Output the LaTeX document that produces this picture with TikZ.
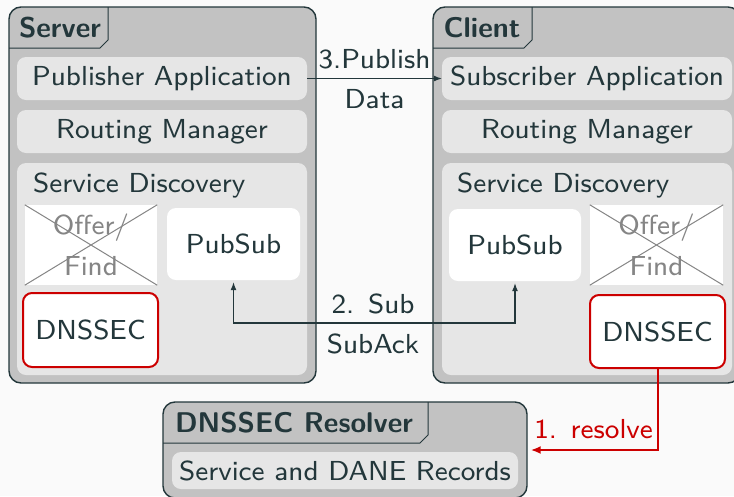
\documentclass[tikz,border=0pt]{standalone}
\usepackage{fontspec}
\setsansfont{lmsans8-regular.otf}[BoldFont=lmsans10-bold.otf]
\usetikzlibrary{arrows.meta}
\definecolor{ink}{HTML}{23373B}
\definecolor{outerfill}{HTML}{C2C2C2}
\definecolor{innerfill}{HTML}{E6E6E6}
\definecolor{bg}{HTML}{FAFAFA}
\definecolor{alert}{HTML}{CC0000}
\definecolor{strike}{HTML}{858585}
\begin{document}
\begin{tikzpicture}[x=1pt,y=-1pt,
  font=\sffamily\fontsize{27.5}{34}\selectfont, text=ink,
  >={Latex[length=8pt,width=6pt]},
  container/.style={draw=ink, line width=1.4pt, fill=outerfill, rounded corners=12pt, inner sep=0pt},
  tabline/.style={draw=ink, line width=1pt},
  title/.style={font=\sffamily\bfseries\fontsize{28.5}{34}\selectfont, inner sep=0pt},
  layer/.style={fill=innerfill, rounded corners=9pt, inner sep=0pt},
  module/.style={fill=white, rounded corners=9pt, inner sep=0pt},
  secure/.style={module, draw=alert, line width=2pt},
  disabled/.style={fill=white, inner sep=0pt, text=strike, align=center,
    font=\sffamily\fontsize{27.5}{41}\selectfont},
  cross/.style={draw=strike, line width=1pt},
  flow/.style={draw=ink, line width=1.1pt},
  resolveflow/.style={draw=alert, line width=2pt, >={Latex[length=10pt,width=8pt]}},
  lbl/.style={inner sep=0pt, anchor=base}]

% canvas
\clip (0,0) rectangle (734,496);
\fill[bg] (0,0) rectangle (734,496);

% ---------- Server ----------
\node[container, minimum width=307pt, minimum height=376pt] (server) at (162.5,195) {};
\draw[tabline] (9,48) -- (100,48) -- (108,40) -- (108,7);
\node[title] (servertitle) at (60,28) {Server};
\node[layer, minimum width=290pt, minimum height=43pt] (pubapp) at (162,78.5) {Publisher Application};
\node[layer, minimum width=290pt, minimum height=43pt] (rmS) at (162,131.5) {Routing Manager};
\node[layer, minimum width=290pt, minimum height=212pt] (sdS) at (162,269) {};
\node[inner sep=0pt, anchor=west] (sdSlabel) at (33,185) {Service Discovery};
\node[disabled, minimum width=132pt, minimum height=80pt] (ofS) at (91,245) {Offer/\\Find};
\draw[cross] (ofS.north west) -- (ofS.south east);
\draw[cross] (ofS.north east) -- (ofS.south west);
\node[module, minimum width=133pt, minimum height=72pt] (psS) at (233.5,244) {PubSub};
\node[secure, minimum width=135pt, minimum height=74pt] (dnsS) at (90.5,330) {DNSSEC};

% ---------- Client ----------
\node[container, minimum width=307pt, minimum height=376pt] (client) at (586.5,195) {};
\draw[tabline] (433,48) -- (524,48) -- (532,40) -- (532,7);
\node[title] (clienttitle) at (482,28) {Client};
\node[layer, minimum width=290pt, minimum height=43pt] (subapp) at (587,78.5) {Subscriber Application};
\node[layer, minimum width=290pt, minimum height=43pt] (rmC) at (587,131.5) {Routing Manager};
\node[layer, minimum width=290pt, minimum height=212pt] (sdC) at (587,269) {};
\node[inner sep=0pt, anchor=west] (sdClabel) at (457,185) {Service Discovery};
\node[module, minimum width=132pt, minimum height=72pt] (psC) at (515,245) {PubSub};
\node[disabled, minimum width=133pt, minimum height=80pt] (ofC) at (656.5,245) {Offer/\\Find};
\draw[cross] (ofC.north west) -- (ofC.south east);
\draw[cross] (ofC.north east) -- (ofC.south west);
\node[secure, minimum width=135pt, minimum height=73pt] (dnsC) at (657.5,331.5) {DNSSEC};

% ---------- DNSSEC Resolver ----------
\node[container, minimum width=364pt, minimum height=96pt] (resolver) at (345,450) {};
\draw[tabline] (163,443) -- (420,443) -- (428,435) -- (428,402);
\node[title] (resolvertitle) at (294,423) {DNSSEC Resolver};
\node[layer, minimum width=346pt, minimum height=37pt] (records) at (345,470.5) {Service and DANE Records};

% ---------- message flows ----------
\draw[flow, ->] (pubapp.east) -- (subapp.west)
  node[lbl, midway, yshift=10.5pt] {3.Publish}
  node[lbl, midway, yshift=-29.5pt] {Data};

\coordinate (subline) at (373,323);
\draw[flow, <->, shorten <=2pt, shorten >=2pt] (psS.south) |- (subline) -| (psC.south);
\node[lbl, yshift=10pt] (sublabel) at (subline) {2.\hspace{0.5em}Sub};
\node[lbl, yshift=-30pt] (subacklabel) at (subline) {SubAck};

\draw[resolveflow, ->] (dnsC.south) |- ([xshift=3pt]resolver.east)
  node[lbl, pos=0.752, yshift=12pt, text=alert] {1.\hspace{0.5em}resolve};
\end{tikzpicture}
\end{document}
